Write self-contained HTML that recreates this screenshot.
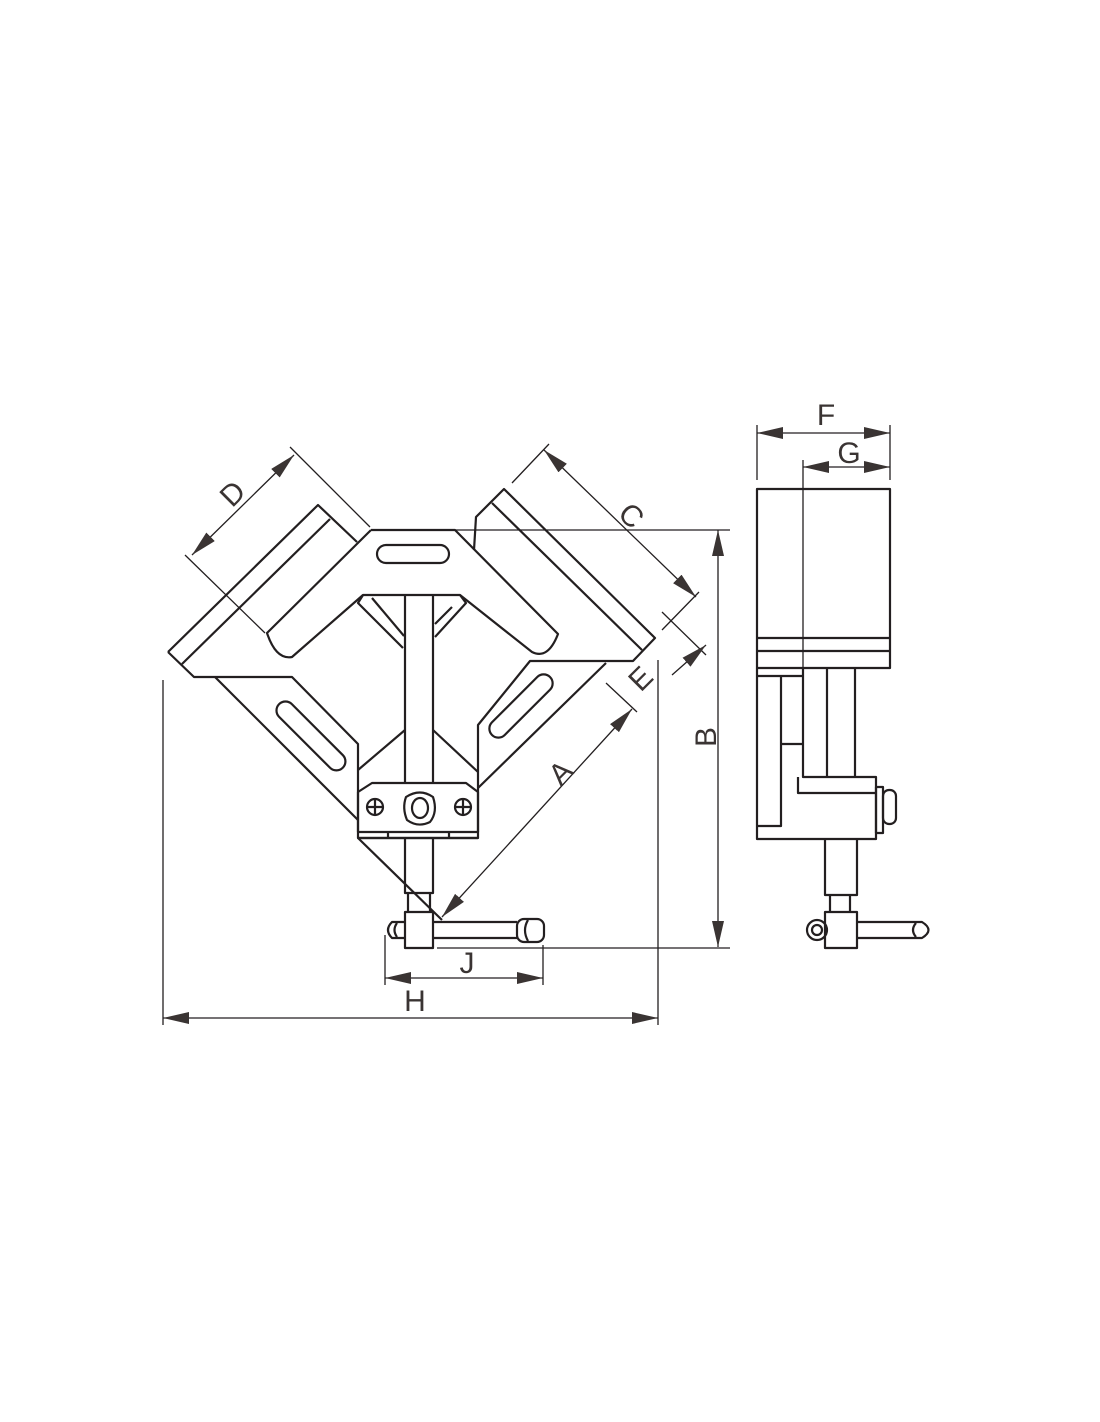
<!DOCTYPE html>
<html><head><meta charset="utf-8"><style>
html,body{margin:0;padding:0;background:#fff}
svg{display:block}
text{font-family:"Liberation Sans",sans-serif;font-size:30px;fill:#3a3433}
</style></head><body>
<svg width="1100" height="1422" viewBox="0 0 1100 1422" xmlns="http://www.w3.org/2000/svg">
<defs>
<marker id="ar" viewBox="0 0 26 12" refX="26" refY="6" markerWidth="26" markerHeight="12" markerUnits="userSpaceOnUse" orient="auto-start-reverse">
<path d="M0,0 L26,6 L0,12 Z" fill="#3a3433"/>
</marker>
</defs>
<g fill="none" stroke="#231f20" stroke-width="2.2" stroke-linejoin="round">
<path d="M168,652 L318,505 L357,542"/>
<path d="M182,664 L330,519"/>
<path d="M168,652 L194,677 L292,677 L358,744 L358,838 L478,838 L478,725 L530,661 L633,661 L655,638 L504,489 L476,517 L474,550"/>
<path d="M642,650 L492,503"/>
<path d="M215,677 L358,820"/>
<path d="M606,663 L478,788"/>
<path d="M358,838 L442,920"/>
<path d="M371,530 L455,530 L558,634 Q548,660 532,652 L460,595 L363,595 L292,657 Q276,660 267,633 L371,530"/>
<path d="M363,595 L358,603 L403,648"/>
<path d="M460,595 L466,603 L435,637"/>
<path d="M372,598 L404,636"/>
<path d="M435,624 L452,607"/>
<path d="M405,595 L405,783 M433,595 L433,783"/>
<path d="M358,770 L405,730 M478,772 L433,730"/>
<rect x="377" y="545" width="72" height="18" rx="9"/>
<rect x="268" y="722" width="90" height="18" rx="9" transform="rotate(45 306 731)"/>
<rect x="480" y="697" width="82" height="18" rx="9" transform="rotate(-45 521 706)"/>
<path d="M358,832 L358,792 L372,783 L466,783 L478,792 L478,832 Z"/>
<path d="M358,838 L478,838 M388,832 L388,838 M449,832 L449,838"/>
<circle cx="375" cy="807" r="8"/><path d="M367,807 L383,807 M375,799 L375,815"/>
<circle cx="463" cy="807" r="8"/><path d="M455,807 L471,807 M463,799 L463,815"/>
<path d="M406,797 Q420,788 433,797 Q438,812 430,822 Q418,828 407,820 Q402,808 406,797 Z"/>
<ellipse cx="420" cy="808" rx="8" ry="10"/>
<path d="M405,838 L405,893 L433,893 L433,838"/>
<path d="M408,893 L408,912 M430,893 L430,912"/>
<rect x="405" y="912" width="28" height="36"/>
<path d="M433,922 L517,922 M433,938 L517,938"/>
<rect x="517" y="919" width="27" height="23" rx="7"/>
<path d="M528,920 Q522,930 528,941"/>
<path d="M405,922 L392,922 Q384,930 392,938 L405,938"/>
<path d="M397,923 Q392,930 397,937"/>
<rect x="757" y="489" width="133" height="179"/>
<path d="M757,638 L890,638 M757,651 L890,651"/>
<path d="M757,668 L757,839 L876,839 L876,777 L803,777 L803,668"/>
<path d="M757,676 L803,676 M781,676 L781,826 L757,826 M781,744 L803,744"/>
<path d="M798,777 L798,793 L876,793"/>
<path d="M827,668 L827,777 M855,668 L855,777"/>
<rect x="876" y="787" width="7" height="46"/>
<rect x="883" y="790" width="13" height="34" rx="6"/>
<path d="M825,839 L825,895 L857,895 L857,839"/>
<path d="M830,895 L830,912 M850,895 L850,912"/>
<rect x="825" y="912" width="32" height="36"/>
<path d="M857,922 L922,922 Q935,930 922,938 L857,938"/>
<path d="M916,923 Q910,930 916,937"/>
<circle cx="817" cy="930" r="10"/><circle cx="817" cy="930" r="5"/>
</g>
<g fill="none" stroke="#231f20" stroke-width="1.3">
<path d="M290,447 L370,527 M185,555 L265,633"/>
<path d="M549,444 L512,483 M699,592 L662,630"/>
<path d="M662,612 L706,655"/>
<path d="M606,683 L637,712"/>
<path d="M455,530 L730,530 M437,948 L730,948"/>
<path d="M163,680 L163,1025 M658,660 L658,1025"/>
<path d="M385,935 L385,985 M543,945 L543,985"/>
<path d="M757,425 L757,480 M890,425 L890,480 M803,460 L803,668"/>
<path d="M192,555 L294,455" marker-start="url(#ar)" marker-end="url(#ar)"/>
<path d="M544,450 L696,597" marker-start="url(#ar)" marker-end="url(#ar)"/>
<path d="M442,917 L632,709" marker-start="url(#ar)" marker-end="url(#ar)"/>
<path d="M706,645 L672,675" marker-start="url(#ar)"/>
<path d="M718,530 L718,947" marker-start="url(#ar)" marker-end="url(#ar)"/>
<path d="M163,1018 L658,1018" marker-start="url(#ar)" marker-end="url(#ar)"/>
<path d="M385,978 L543,978" marker-start="url(#ar)" marker-end="url(#ar)"/>
<path d="M757,433 L890,433" marker-start="url(#ar)" marker-end="url(#ar)"/>
<path d="M803,467 L890,467" marker-start="url(#ar)" marker-end="url(#ar)"/>
</g>
<text x="232" y="504" text-anchor="middle" transform="rotate(-45 232 493)">D</text>
<text x="632" y="526" text-anchor="middle" transform="rotate(45 632 515)">C</text>
<text x="640" y="689" text-anchor="middle" transform="rotate(-45 640 678)">E</text>
<text x="560" y="783" text-anchor="middle" transform="rotate(-45 560 772)">A</text>
<text x="705" y="748" text-anchor="middle" transform="rotate(-90 705 737)">B</text>
<text x="415" y="1011" text-anchor="middle">H</text>
<text x="467" y="973" text-anchor="middle">J</text>
<text x="826" y="425" text-anchor="middle">F</text>
<text x="849" y="463" text-anchor="middle">G</text>
</svg>
</body></html>
